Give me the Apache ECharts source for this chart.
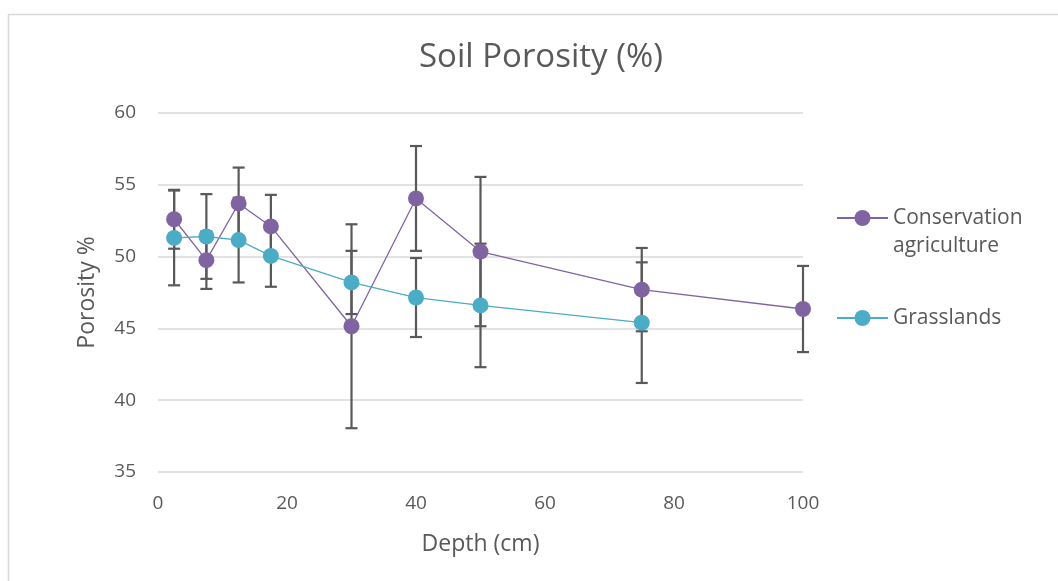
<!DOCTYPE html>
<html>
<head>
<meta charset="utf-8">
<script src="https://cdn.jsdelivr.net/npm/echarts@6/dist/echarts.min.js"></script>
<style>
html,body{margin:0;padding:0;background:#fff;}
#c{width:1058px;height:581px;}
</style>
</head>
<body>
<div id="c"></div>
<script>
const depthCA = [2.5, 7.5, 12.5, 17.5, 30, 40, 50, 75, 100];
const porosityCA = [52.6, 49.75, 53.7, 52.1, 45.15, 54.05, 50.35, 47.7, 46.35];
const errCA = [2.05, 2.0, 2.5, 2.2, 7.1, 3.65, 5.2, 2.9, 3.0];

const depthGR = [2.5, 7.5, 12.5, 17.5, 30, 40, 50, 75];
const porosityGR = [51.3, 51.4, 51.15, 50.05, 48.2, 47.15, 46.6, 45.4];
const errGR = [3.3, 2.95, 2.95, 2.15, 2.2, 2.75, 4.3, 4.2];

const nameCA = 'Conservation agriculture';
const nameGR = 'Grasslands';

const txt = '#595959';
const font = '"Open Sans", "Noto Sans", sans-serif';

function errData(xs, ys, es) {
  return xs.map((x, i) => [x, ys[i] - es[i], ys[i] + es[i]]);
}

function renderErr(params, api) {
  const x = api.value(0);
  const lo = api.coord([x, api.value(1)]);
  const hi = api.coord([x, api.value(2)]);
  const hw = 6;
  const style = { stroke: '#595959', lineWidth: 2.2 };
  return {
    type: 'group',
    children: [
      { type: 'line', shape: { x1: lo[0], y1: lo[1], x2: hi[0], y2: hi[1] }, style: style },
      { type: 'line', shape: { x1: lo[0] - hw, y1: lo[1], x2: lo[0] + hw, y2: lo[1] }, style: style },
      { type: 'line', shape: { x1: hi[0] - hw, y1: hi[1], x2: hi[0] + hw, y2: hi[1] }, style: style }
    ]
  };
}

const chart = echarts.init(document.getElementById('c'), null, { renderer: 'canvas' });
chart.setOption({
  backgroundColor: '#fff',
  animation: false,
  textStyle: { fontFamily: font },
  title: {
    text: 'Soil Porosity (%)',
    left: 419,
    top: 41,
    padding: 0,
    textStyle: { fontFamily: font, fontSize: 33, fontWeight: 'normal', color: txt }
  },
  graphic: [{
    type: 'rect',
    shape: { x: 8.5, y: 14.5, width: 1100, height: 700 },
    style: { fill: 'none', stroke: '#d9d9d9', lineWidth: 1.5 },
    silent: true,
    z: -1
  }],
  grid: { left: 158, right: 255, top: 113, bottom: 109 },
  xAxis: {
    type: 'value',
    min: 0, max: 100, interval: 20,
    name: 'Depth (cm)',
    nameLocation: 'middle',
    nameGap: 61,
    nameTextStyle: { fontFamily: font, fontSize: 23, color: txt },
    axisLine: { show: false },
    axisTick: { show: false },
    splitLine: { show: false },
    axisLabel: { fontFamily: font, fontSize: 19, color: txt, margin: 22 }
  },
  yAxis: {
    type: 'value',
    min: 35, max: 60, interval: 5,
    name: 'Porosity %',
    nameLocation: 'middle',
    nameGap: 59,
    nameTextStyle: { fontFamily: font, fontSize: 23, color: txt },
    axisLine: { show: false },
    axisTick: { show: false },
    splitLine: { lineStyle: { color: '#d9d9d9', width: 1.5 } },
    axisLabel: { fontFamily: font, fontSize: 19, color: txt, margin: 22 }
  },
  legend: {
    orient: 'vertical',
    left: 836,
    top: 176,
    padding: 0,
    itemWidth: 51,
    itemHeight: 20,
    itemGap: 44,
    data: [nameCA, nameGR],
    formatter: function (n) { return n === nameCA ? ' \nConservation\nagriculture' : n; },
    textStyle: { fontFamily: font, fontSize: 21, color: txt, lineHeight: 28 }
  },
  series: [
    {
      name: nameCA,
      type: 'line',
      data: depthCA.map((x, i) => [x, porosityCA[i]]),
      symbol: 'circle',
      symbolSize: 16,
      itemStyle: { color: '#8064A2' },
      lineStyle: { color: '#8064A2', width: 1.3 },
      z: 3
    },
    {
      name: nameGR,
      type: 'line',
      data: depthGR.map((x, i) => [x, porosityGR[i]]),
      symbol: 'circle',
      symbolSize: 16,
      itemStyle: { color: '#4BACC6' },
      lineStyle: { color: '#4BACC6', width: 1.3 },
      z: 4
    },
    {
      type: 'custom',
      renderItem: renderErr,
      data: errData(depthCA, porosityCA, errCA),
      z: 2,
      silent: true
    },
    {
      type: 'custom',
      renderItem: renderErr,
      data: errData(depthGR, porosityGR, errGR),
      z: 2,
      silent: true
    }
  ]
});
</script>
</body>
</html>
